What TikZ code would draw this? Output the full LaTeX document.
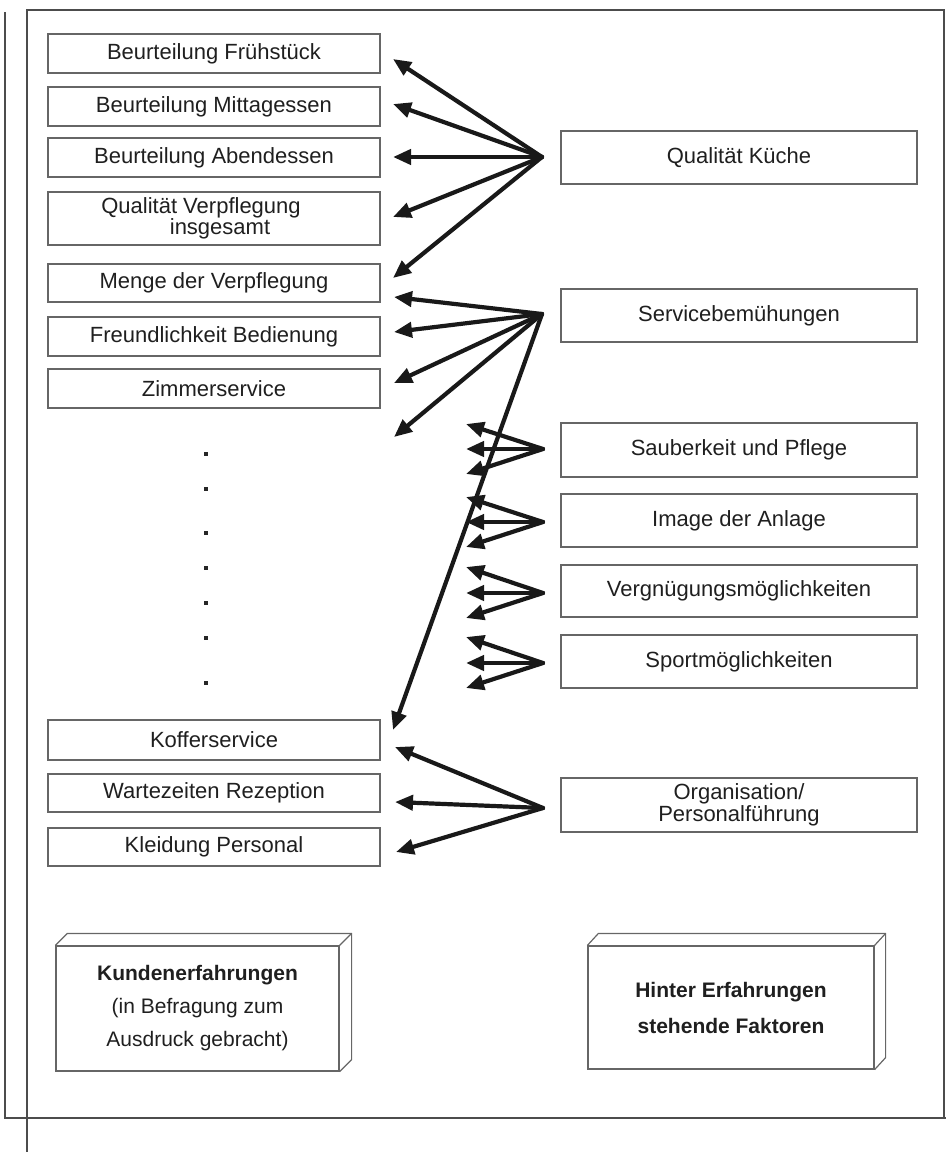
\documentclass[tikz,border=0pt]{standalone}
\usepackage{fontspec}
\setmainfont{Liberation Sans}
\usetikzlibrary{arrows.meta}
\begin{document}
\begin{tikzpicture}[x=1pt,y=-1pt,
  lbox/.style={draw=black!60,line width=1.2pt,minimum width=332pt,minimum height=39pt,inner sep=0pt,font=\fontsize{22}{26}\selectfont,text=black!88},
  rbox/.style={draw=black!60,line width=1.2pt,minimum width=356pt,minimum height=53pt,inner sep=0pt,font=\fontsize{22}{26}\selectfont,text=black!88},
  arr/.style={draw=black!90,line width=4.2pt,line cap=round,-{Triangle[length=18pt,width=15pt]}},
  frameline/.style={draw=black!70,line width=1.5pt},
  dotm/.style={fill=black!85,minimum size=4.5pt,inner sep=0pt},
  cube/.style={draw=black!60,line width=1.2pt,inner sep=0pt,align=center,font=\fontsize{21}{33}\selectfont,text=black!88},
  cubeedge/.style={draw=black!60,line width=1.2pt,line join=round}
]
\useasboundingbox (0,0) rectangle (946,1152);

% frame
\draw[frameline] (5,12) -- (5,1118) -- (946,1118);
\draw[frameline] (27,1152) -- (27,10) -- (944,10) -- (944,1118);

% left boxes
\node[lbox] (fr) at (214,53.5) {Beurteilung Frühstück};
\node[lbox] (mi) at (214,106.5) {Beurteilung Mittagessen};
\node[lbox] (ab) at (214,157.5) {Beurteilung Abendessen};
\node[lbox,minimum height=53pt,font=\fontsize{22}{16}\selectfont,align=center] (qv) at (214,218.5) {Qualität Verpflegung\kern26pt\\\hspace*{12pt}insgesamt};
\node[lbox,minimum height=38pt] (me) at (214,283) {Menge der Verpflegung};
\node[lbox] (fb) at (214,336.5) {Freundlichkeit Bedienung};
\node[lbox] (zs) at (214,388.5) {Zimmerservice};
\node[lbox,minimum height=40pt] (ko) at (214,740) {Kofferservice};
\node[lbox,minimum height=38pt] (wr) at (214,793) {Wartezeiten Rezeption};
\node[lbox,minimum height=38pt] (kl) at (214,847) {Kleidung Personal};

% dots
\node[dotm] (d1) at (206,454) {};
\node[dotm] (d2) at (206,489) {};
\node[dotm] (d3) at (206,533) {};
\node[dotm] (d4) at (206,568) {};
\node[dotm] (d5) at (206,603) {};
\node[dotm] (d6) at (206,638) {};
\node[dotm] (d7) at (206,683) {};

% right boxes
\node[rbox] (qk) at (739,157.5) {Qualität Küche};
\node[rbox] (sb) at (739,315.5) {Servicebemühungen};
\node[rbox,minimum height=54pt] (sp) at (739,450) {Sauberkeit und Pflege};
\node[rbox] (im) at (739,520.5) {Image der Anlage};
\node[rbox,minimum height=52pt] (ve) at (739,591) {Vergnügungsmöglichkeiten};
\node[rbox] (so) at (739,661.5) {Sportmöglichkeiten};
\node[rbox,minimum height=54pt,align=center,font=\fontsize{22}{20}\selectfont] (or) at (739,805) {Organisation/\\Personalführung};

% hubs
\coordinate (hqk) at (542,157);
\coordinate (hsb) at (542,314);
\coordinate (hsp) at (543,449);
\coordinate (him) at (543,522);
\coordinate (hve) at (543,593);
\coordinate (hso) at (543,663);
\coordinate (hor) at (543,808);

% arrow tips
\coordinate (tfr) at (393,59);
\coordinate (tmi) at (393,104);
\coordinate (tab) at (393,157);
\coordinate (tqv) at (393,217);
\coordinate (tme1) at (393,278);
\coordinate (tme2) at (394,297);
\coordinate (tfb) at (394,332);
\coordinate (tzs) at (394,383);
\coordinate (tdt) at (394,437);
\coordinate (tko1) at (393,730);
\coordinate (tko2) at (395,747);
\coordinate (twr) at (395,802);
\coordinate (tkl) at (396,852);

\coordinate (tsp1) at (466,424);
\coordinate (tsp2) at (466,449);
\coordinate (tsp3) at (466,474);
\coordinate (tim1) at (466,497);
\coordinate (tim2) at (466,522);
\coordinate (tim3) at (466,547);
\coordinate (tve1) at (466,567);
\coordinate (tve2) at (466,593);
\coordinate (tve3) at (466,618);
\coordinate (tso1) at (466,637);
\coordinate (tso2) at (466,663);
\coordinate (tso3) at (466,688);

% arrows
\draw[arr] (hqk) -- (tfr);
\draw[arr] (hqk) -- (tmi);
\draw[arr] (hqk) -- (tab);
\draw[arr] (hqk) -- (tqv);
\draw[arr] (hqk) -- (tme1);

\draw[arr] (hsb) -- (tme2);
\draw[arr] (hsb) -- (tfb);
\draw[arr] (hsb) -- (tzs);
\draw[arr] (hsb) -- (tdt);
\draw[arr] (hsb) -- (tko1);

\draw[arr] (hsp) -- (tsp1);
\draw[arr] (hsp) -- (tsp2);
\draw[arr] (hsp) -- (tsp3);
\draw[arr] (him) -- (tim1);
\draw[arr] (him) -- (tim2);
\draw[arr] (him) -- (tim3);
\draw[arr] (hve) -- (tve1);
\draw[arr] (hve) -- (tve2);
\draw[arr] (hve) -- (tve3);
\draw[arr] (hso) -- (tso1);
\draw[arr] (hso) -- (tso2);
\draw[arr] (hso) -- (tso3);

\draw[arr] (hor) -- (tko2);
\draw[arr] (hor) -- (twr);
\draw[arr] (hor) -- (tkl);

% 3D legend boxes
\node[cube,minimum width=283pt,minimum height=125pt] (ke) at (197.5,1008.5)
  {\textbf{Kundenerfahrungen}\\(in Befragung zum\\Ausdruck gebracht)};
\draw[cubeedge] (ke.north west) -- ([shift={(12,-12)}]ke.north west) -- ([shift={(12,-12)}]ke.north east) -- ([shift={(12,-12)}]ke.south east) -- (ke.south east);
\draw[cubeedge] (ke.north east) -- ([shift={(12,-12)}]ke.north east);

\node[cube,minimum width=286pt,minimum height=123pt,font=\fontsize{21}{36}\selectfont] (hf) at (731,1007.5)
  {\textbf{Hinter Erfahrungen}\\\textbf{stehende Faktoren}};
\draw[cubeedge] (hf.north west) -- ([shift={(11,-12)}]hf.north west) -- ([shift={(11,-12)}]hf.north east) -- ([shift={(11,-12)}]hf.south east) -- (hf.south east);
\draw[cubeedge] (hf.north east) -- ([shift={(11,-12)}]hf.north east);
\end{tikzpicture}
\end{document}
